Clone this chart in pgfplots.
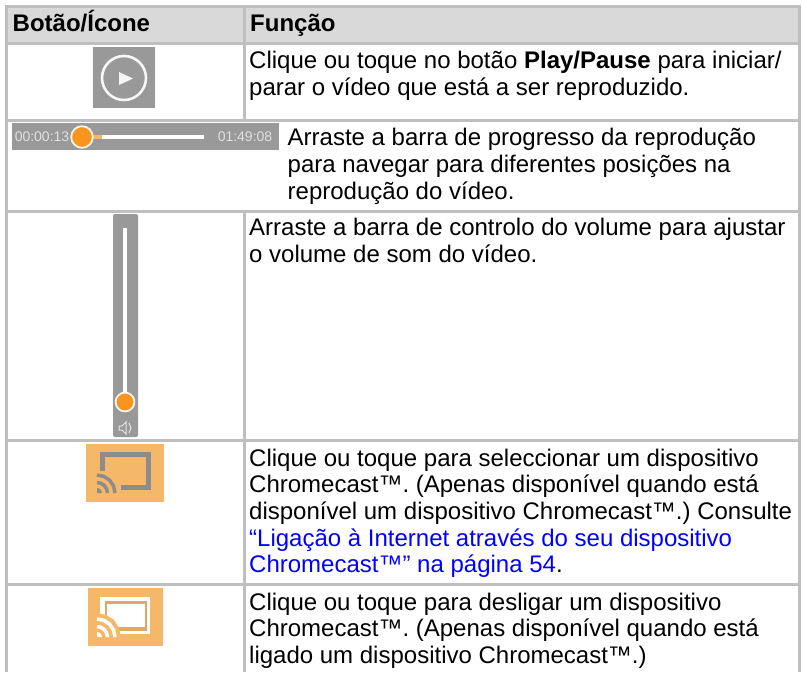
\documentclass[border=0pt]{standalone}
\usepackage{pgfplots}
\pgfplotsset{compat=1.18}
\usepackage{fontspec}
\setmainfont{Liberation Sans}
\frenchspacing
\definecolor{rule}{HTML}{BFBFBF}
\definecolor{head}{HTML}{D9D9D9}
\definecolor{icon}{HTML}{999999}
\definecolor{org}{HTML}{F9951E}
\definecolor{cast}{HTML}{F5B768}
\definecolor{castd}{HTML}{8C8C8C}
\definecolor{tan}{HTML}{DDA868}
\definecolor{lnk}{HTML}{0000FF}
\newcommand{\T}[3]{\node[anchor=base west,inner sep=0pt,font=\fontsize{24}{26}\selectfont] at (axis cs:#1,#2) {#3};}
\begin{document}
\begin{tikzpicture}
\begin{axis}[scale only axis,width=802pt,height=672pt,xmin=0,xmax=802,ymin=0,ymax=672,y dir=reverse,axis lines=none,clip=false,clip marker paths=true]
\path[use as bounding box] (rel axis cs:0,0) rectangle (rel axis cs:1,1);
% header fill
\addplot[draw=none,fill=head] coordinates {(5,5)(801,5)(801,43)(5,43)} -- cycle;
% rules
\addplot[draw=none,fill=rule] coordinates {(5,5)(801,5)(801,8)(5,8)} -- cycle;
\addplot[draw=none,fill=rule] coordinates {(5,41.5)(801,41.5)(801,44.5)(5,44.5)} -- cycle;
\addplot[draw=none,fill=rule] coordinates {(5,118.5)(801,118.5)(801,121.5)(5,121.5)} -- cycle;
\addplot[draw=none,fill=rule] coordinates {(5,209.5)(801,209.5)(801,212.5)(5,212.5)} -- cycle;
\addplot[draw=none,fill=rule] coordinates {(5,439)(801,439)(801,442)(5,442)} -- cycle;
\addplot[draw=none,fill=rule] coordinates {(5,583)(801,583)(801,586)(5,586)} -- cycle;
\addplot[draw=none,fill=rule] coordinates {(5,5)(8,5)(8,672)(5,672)} -- cycle;
\addplot[draw=none,fill=rule] coordinates {(798,5)(801,5)(801,672)(798,672)} -- cycle;
\addplot[draw=none,fill=rule] coordinates {(243,5)(246,5)(246,672)(243,672)} -- cycle;
% white patch for row 2
\addplot[draw=none,fill=white] coordinates {(8,121.5)(290,121.5)(290,209.5)(8,209.5)} -- cycle;
% play icon
\addplot[draw=none,fill=icon] coordinates {(93,47)(155,47)(155,108)(93,108)} -- cycle;
\addplot[only marks,mark=*,mark size=22pt,mark options={draw=white!92!icon,fill=icon,line width=2.6pt}] coordinates {(124,78)};
\addplot[draw=none,fill=white!90!icon] coordinates {(119,72)(119,85)(133,78.5)} -- cycle;
% progress bar
\addplot[draw=none,fill=icon] coordinates {(12,123)(279,123)(279,150)(12,150)} -- cycle;
\addplot[white,line width=3.8pt] coordinates {(82,137)(204,137)};
\addplot[cast,line width=3.8pt] coordinates {(82,137)(102,137)};
\addplot[only marks,mark=*,mark size=10.8pt,mark options={draw=white!90!org,fill=org,line width=1.8pt}] coordinates {(82,137)};
\node[anchor=center,inner sep=0pt,text=white!70!icon,font=\fontsize{14}{16}\selectfont] at (axis cs:42,137) {00:00:13};
\node[anchor=center,inner sep=0pt,text=white!70!icon,font=\fontsize{14}{16}\selectfont] at (axis cs:245,137) {01:49:08};
% volume
\addplot[draw=none,fill=icon,rounded corners=2pt] coordinates {(113,214)(138,214)(138,437)(113,437)} -- cycle;
\addplot[white,line width=3.8pt] coordinates {(125,228)(125,400)};
\addplot[only marks,mark=*,mark size=9.4pt,mark options={draw=white!90!org,fill=org,line width=1.8pt}] coordinates {(125,402)};
\addplot[draw=white!75!icon,fill=none,line width=1pt] coordinates {(119,426)(122,426)(126,422)(126,434)(122,430)(119,430)} -- cycle;
\addplot[draw=white!75!icon,line width=1pt] coordinates {(129,423)(131,428)(129,433)};
% cast 1
\addplot[draw=none,fill=cast] coordinates {(86,444)(164,444)(164,502)(86,502)} -- cycle;
\addplot[castd,line width=5pt] coordinates {(102.5,471)(102.5,454.5)(148.5,454.5)(148.5,487.5)(121,487.5)};
\addplot[castd,line width=3.5pt] coordinates {(97,475)(103.9,476.4)(109.7,480.3)(113.6,486.1)(115,493)};
\addplot[castd,line width=3.5pt] coordinates {(97,482.5)(101,483.3)(104.4,485.6)(106.7,489)(107.5,493)};
\addplot[draw=none,fill=castd] coordinates {(97,488)(99,488.4)(100.5,489.5)(101.6,491)(102,493)(97,493)} -- cycle;
% cast 2
\addplot[draw=none,fill=cast] coordinates {(88,588)(163,588)(163,646)(88,646)} -- cycle;
\addplot[draw=none,fill=white] coordinates {(100,597)(150,597)(150,634)(100,634)} -- cycle;
\addplot[draw=none,fill=tan] coordinates {(104.5,601)(147,601)(147,631)(104.5,631)} -- cycle;
\addplot[draw=none,fill=white] coordinates {(107,604)(144.5,604)(144.5,627)(107,627)} -- cycle;
\addplot[draw=none,fill=cast] coordinates {(97,613)(106,615)(114,620)(119,628)(121,637)(97,637)} -- cycle;
\addplot[white,line width=3.5pt] coordinates {(97,619)(103.9,620.4)(109.7,624.3)(113.6,630.1)(115,637)};
\addplot[white,line width=3.5pt] coordinates {(97,626.5)(101,627.3)(104.4,629.6)(106.7,633)(107.5,637)};
\addplot[draw=none,fill=white] coordinates {(97,632)(99,632.4)(100.5,633.5)(101.6,635)(102,637)(97,637)} -- cycle;
% text
\T{12.5}{31}{\textbf{Botão/Ícone}}
\T{250}{31}{\textbf{Função}}
\T{249}{68.5}{Clique ou toque no botão \textbf{Play/Pause} para iniciar/}
\T{249}{95}{parar o vídeo que está a ser reproduzido.}
\T{287.5}{145}{Arraste a barra de progresso da reprodução}
\T{287.5}{172}{para navegar para diferentes posições na}
\T{287.5}{199}{reprodução do vídeo.}
\T{249}{235.5}{Arraste a barra de controlo do volume para ajustar}
\T{249}{262.5}{o volume de som do vídeo.}
\T{249}{466}{Clique ou toque para seleccionar um dispositivo}
\T{249}{492.7}{Chromecast™. (Apenas disponível quando está}
\T{249}{519.3}{disponível um dispositivo Chromecast™.) Consulte}
\T{249}{546}{\textcolor{lnk}{“Ligação à Internet através do seu dispositivo}}
\T{249}{572.7}{\textcolor{lnk}{Chromecast™” na página 54}.}
\T{249}{610}{Clique ou toque para desligar um dispositivo}
\T{249}{636.7}{Chromecast™. (Apenas disponível quando está}
\T{249}{663}{ligado um dispositivo Chromecast™.)}
\end{axis}
\end{tikzpicture}
\end{document}
